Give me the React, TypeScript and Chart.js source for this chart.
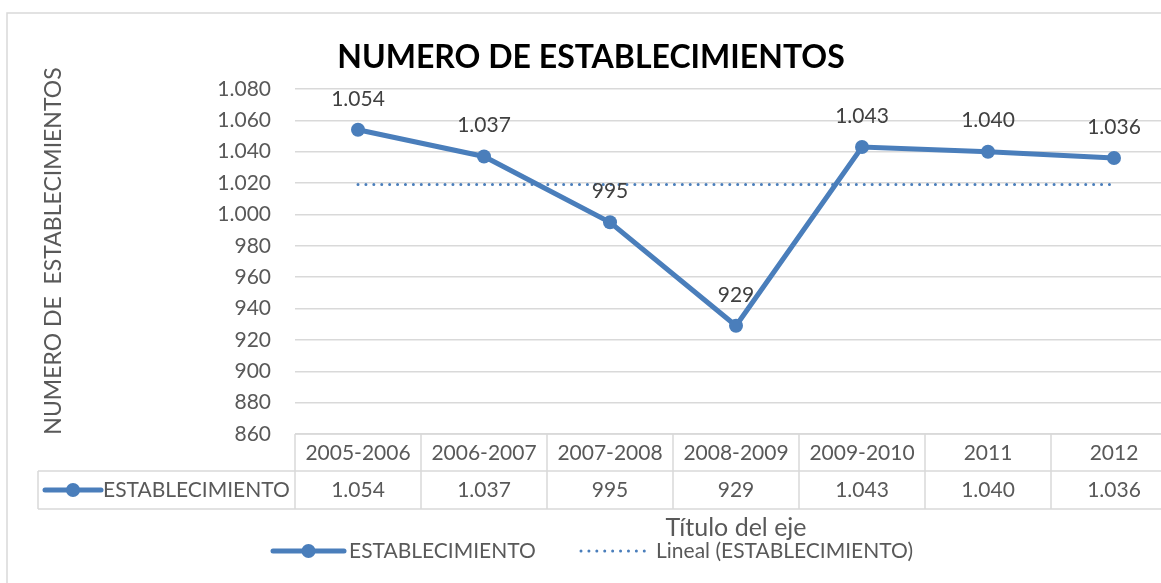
import React, { useEffect, useRef } from "react";
import { Chart, registerables } from "chart.js";

Chart.register(...registerables);

const TITLE = "NUMERO DE ESTABLECIMIENTOS";
const Y_TITLE = "NUMERO DE  ESTABLECIMIENTOS";
const X_TITLE = "Título del eje";
const SERIES_NAME = "ESTABLECIMIENTO";
const TREND_NAME = "Lineal (ESTABLECIMIENTO)";

const categories = ["2005-2006", "2006-2007", "2007-2008", "2008-2009", "2009-2010", "2011", "2012"];
const values = [1054, 1037, 995, 929, 1043, 1040, 1036];

const Y_MIN = 860;
const Y_MAX = 1080;
const Y_STEP = 20;

const COLOR = "#4A7EBB";
const TEXT = "#595959";
const GRID = "#D9D9D9";
const FONT = "Lato, 'Open Sans', sans-serif";

const fmt = (n: number) => String(Math.round(n)).replace(/\B(?=(\d{3})+(?!\d))/g, ".");

// Excel linear trendline (least squares)
function linearTrend(ys: number[]): number[] {
  const n = ys.length;
  const xs = ys.map((_, i) => i + 1);
  const mx = xs.reduce((a, b) => a + b, 0) / n;
  const my = ys.reduce((a, b) => a + b, 0) / n;
  let num = 0, den = 0;
  xs.forEach((x, i) => { num += (x - mx) * (ys[i] - my); den += (x - mx) * (x - mx); });
  const slope = num / den;
  return xs.map((x) => my + slope * (x - mx));
}

const W = 1190;
const H = 600;

function drawKeyLine(ctx: CanvasRenderingContext2D, x1: number, x2: number, y: number) {
  ctx.save();
  ctx.strokeStyle = COLOR;
  ctx.lineWidth = 5;
  ctx.lineCap = "round";
  ctx.beginPath();
  ctx.moveTo(x1, y);
  ctx.lineTo(x2, y);
  ctx.stroke();
  ctx.fillStyle = COLOR;
  ctx.beginPath();
  ctx.arc((x1 + x2) / 2, y, 7, 0, Math.PI * 2);
  ctx.fill();
  ctx.restore();
}

const overlayPlugin = {
  id: "overlay",
  afterDatasetsDraw(chart: any) {
    const ctx: CanvasRenderingContext2D = chart.ctx;
    const area = chart.chartArea;
    const xs = chart.scales.x;
    ctx.save();

    // outer chart border
    ctx.strokeStyle = GRID;
    ctx.lineWidth = 1.5;
    ctx.strokeRect(7, 13, W, H);

    // data labels
    const meta = chart.getDatasetMeta(0);
    ctx.fillStyle = "#404040";
    ctx.font = `21px ${FONT}`;
    ctx.textAlign = "center";
    ctx.textBaseline = "middle";
    meta.data.forEach((pt: any, i: number) => {
      ctx.fillText(fmt(values[i]), pt.x, pt.y - 31);
    });

    // title
    ctx.fillStyle = "#000000";
    ctx.font = `bold 32px ${FONT}`;
    ctx.fillText(TITLE, 591, 58);

    // y axis title
    ctx.save();
    ctx.translate(54, 251);
    ctx.rotate(-Math.PI / 2);
    ctx.fillStyle = TEXT;
    ctx.font = `23px ${FONT}`;
    ctx.fillText(Y_TITLE, 0, 0);
    ctx.restore();

    // data table
    const n = categories.length;
    const band = (area.right - area.left) / n;
    const top = area.bottom;
    const mid = top + 37;
    const bottom = top + 75;
    const tableLeft = 38;
    ctx.strokeStyle = GRID;
    ctx.lineWidth = 1.5;
    ctx.beginPath();
    ctx.moveTo(area.left, top);
    ctx.lineTo(W, top);
    ctx.moveTo(tableLeft, mid);
    ctx.lineTo(W, mid);
    ctx.moveTo(tableLeft, bottom);
    ctx.lineTo(W, bottom);
    ctx.moveTo(tableLeft, mid);
    ctx.lineTo(tableLeft, bottom);
    for (let i = 0; i <= n; i++) {
      const x = area.left + band * i;
      ctx.moveTo(x, top);
      ctx.lineTo(x, bottom);
    }
    ctx.stroke();

    ctx.fillStyle = TEXT;
    ctx.font = `21px ${FONT}`;
    ctx.textAlign = "center";
    categories.forEach((c, i) => {
      const cx = xs.getPixelForValue(i);
      ctx.fillText(c, cx, top + 19);
      ctx.fillText(fmt(values[i]), cx, mid + 19);
    });
    drawKeyLine(ctx, 45, 101, mid + 19);
    ctx.textAlign = "left";
    ctx.fillText(SERIES_NAME, 103, mid + 19);

    // x axis title
    ctx.textAlign = "center";
    ctx.font = `25px ${FONT}`;
    ctx.fillText(X_TITLE, (area.left + area.right) / 2, 528);

    // legend
    const ly = 551;
    drawKeyLine(ctx, 273, 344, ly);
    ctx.textAlign = "left";
    ctx.font = `21px ${FONT}`;
    ctx.fillStyle = TEXT;
    ctx.fillText(SERIES_NAME, 349, ly);
    ctx.save();
    ctx.strokeStyle = COLOR;
    ctx.lineWidth = 3;
    ctx.lineCap = "round";
    ctx.setLineDash([0.01, 7.9]);
    ctx.beginPath();
    ctx.moveTo(581, ly);
    ctx.lineTo(650, ly);
    ctx.stroke();
    ctx.restore();
    ctx.fillText(TREND_NAME, 656, ly);

    ctx.restore();
  },
};

export default function App() {
  const ref = useRef<HTMLCanvasElement | null>(null);

  useEffect(() => {
    if (!ref.current) return;
    const trend = linearTrend(values);
    const chart = new Chart(ref.current, {
      type: "line",
      data: {
        labels: categories,
        datasets: [
          {
            label: SERIES_NAME,
            data: values,
            borderColor: COLOR,
            backgroundColor: COLOR,
            borderWidth: 5,
            pointRadius: 7,
            pointBorderWidth: 0,
            pointBackgroundColor: COLOR,
            tension: 0,
            order: 0,
          },
          {
            label: TREND_NAME,
            data: trend,
            borderColor: COLOR,
            borderWidth: 3,
            borderDash: [0.01, 7.9],
            borderCapStyle: "round",
            pointRadius: 0,
            tension: 0,
            order: 1,
          },
        ],
      },
      options: {
        responsive: false,
        animation: false,
        layout: { padding: { top: 89, bottom: H - 434, left: 0, right: W - 1177 } },
        plugins: { legend: { display: false }, tooltip: { enabled: false }, title: { display: false } },
        scales: {
          x: { type: "category", offset: true, display: false },
          y: {
            min: Y_MIN,
            max: Y_MAX,
            afterFit: (s: any) => { s.width = 295; },
            ticks: {
              stepSize: Y_STEP,
              padding: 24,
              color: TEXT,
              font: { family: FONT, size: 21 },
              callback: (v: any) => fmt(Number(v)),
            },
            grid: { color: GRID, lineWidth: 1.5, drawTicks: false },
            border: { display: false },
          },
        },
      },
      plugins: [overlayPlugin],
    });
    return () => chart.destroy();
  }, []);

  return (
    <div style={{ position: "fixed", left: 0, top: 0, width: 1161, height: 583, overflow: "hidden", background: "#fff" }}>
      <canvas ref={ref} width={W} height={H} style={{ width: W, height: H, display: "block" }} />
    </div>
  );
}
